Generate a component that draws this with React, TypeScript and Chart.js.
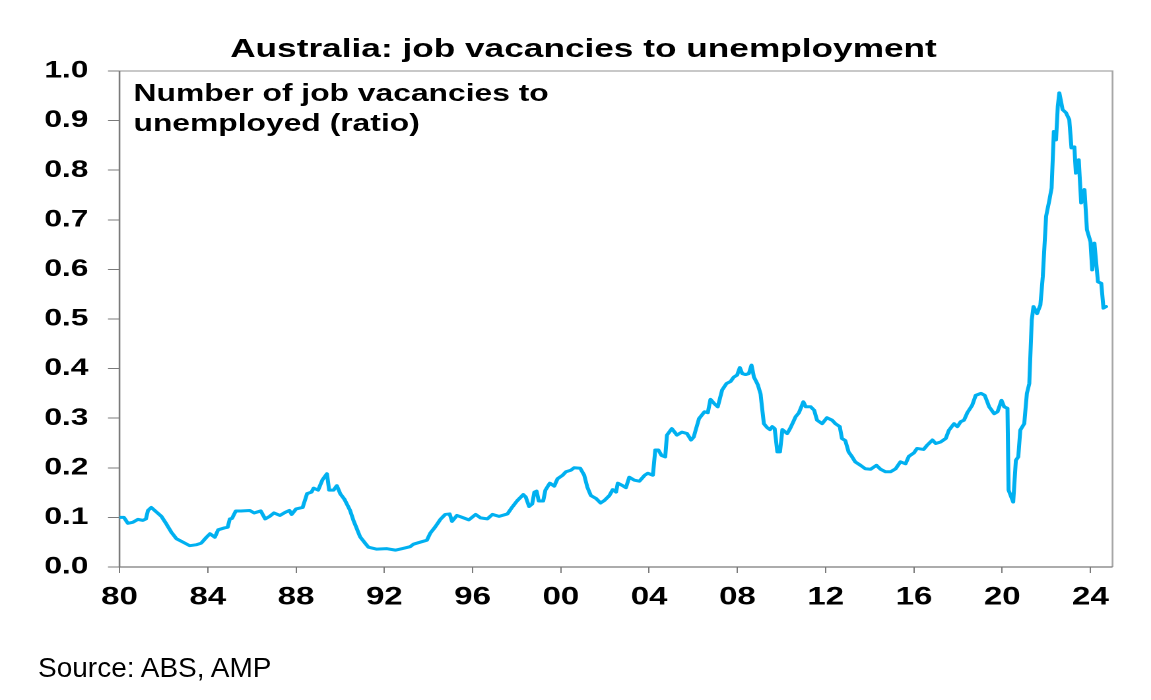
import React, { useEffect, useRef } from "react";
import { Chart, registerables } from "chart.js";

Chart.register(...registerables);

// ---- data ----
const years = [
  1980.0, 1980.2, 1980.38, 1980.6, 1980.83, 1981.06, 1981.2, 1981.29, 1981.44, 1981.67, 1981.9,
  1982.12, 1982.35, 1982.58, 1982.88, 1983.18, 1983.5, 1983.7, 1983.94, 1984.1, 1984.32, 1984.47,
  1984.77, 1984.9, 1985.0, 1985.1, 1985.27, 1985.5, 1985.9, 1986.1, 1986.4, 1986.6, 1986.8, 1987.0,
  1987.27, 1987.5, 1987.7, 1987.8, 1988.0, 1988.3, 1988.4, 1988.5, 1988.7, 1988.8, 1989.0, 1989.2,
  1989.4, 1989.5, 1989.7, 1989.85, 1990.0, 1990.2, 1990.45, 1990.6,
  1990.9, 1991.13, 1991.28, 1991.66, 1992.12, 1992.5, 1992.8, 1993.17, 1993.32, 1993.7, 1993.93,
  1994.08, 1994.31, 1994.54, 1994.76, 1994.96, 1995.07, 1995.29,
  1995.53, 1995.83, 1996.14, 1996.36, 1996.67, 1996.9, 1997.2,
  1997.58, 1997.8, 1998.03, 1998.3, 1998.41, 1998.56, 1998.7, 1998.8, 1998.9, 1999.0, 1999.2,
  1999.3, 1999.5, 1999.7, 1999.85, 2000.08, 2000.23, 2000.45, 2000.6, 2000.88, 2001.06, 2001.2,
  2001.36, 2001.6, 2001.8, 2001.97, 2002.2, 2002.35, 2002.5, 2002.58, 2002.8, 2002.95, 2003.1,
  2003.33, 2003.56, 2003.8, 2003.94, 2004.17, 2004.28, 2004.42, 2004.56, 2004.73, 2004.81, 2005.03,
  2005.26, 2005.49, 2005.72, 2005.9, 2006.02, 2006.26, 2006.51, 2006.66, 2006.78, 2006.96, 2007.11,
  2007.31, 2007.51, 2007.69, 2007.84, 2007.99, 2008.11, 2008.22, 2008.37, 2008.52, 2008.64, 2008.75,
  2008.93, 2009.05, 2009.2, 2009.35, 2009.48, 2009.58, 2009.69, 2009.81, 2009.93, 2010.04, 2010.26,
  2010.41, 2010.64, 2010.79, 2010.99, 2011.1, 2011.32, 2011.48, 2011.61, 2011.84, 2012.06, 2012.29,
  2012.44, 2012.64, 2012.74, 2012.89, 2013.04, 2013.2, 2013.34, 2013.58, 2013.8, 2014.04, 2014.3,
  2014.49, 2014.71, 2014.94, 2015.17, 2015.39, 2015.62, 2015.77, 2016.0, 2016.14, 2016.44, 2016.61,
  2016.84, 2016.99, 2017.21, 2017.44, 2017.59, 2017.82, 2017.97, 2018.12, 2018.27, 2018.42, 2018.64,
  2018.8, 2019.04, 2019.21, 2019.41, 2019.64, 2019.79, 2019.97, 2020.09, 2020.24, 2020.29, 2020.5,
  2020.62, 2020.73, 2020.82, 2021.0, 2021.12, 2021.23, 2021.34, 2021.42, 2021.58, 2021.73, 2021.84,
  2021.99, 2022.14, 2022.24, 2022.34, 2022.44, 2022.52, 2022.59, 2022.74, 2022.89, 2023.04, 2023.14,
  2023.27, 2023.34, 2023.47, 2023.58, 2023.73, 2023.84, 2024.0, 2024.08, 2024.18, 2024.34, 2024.49,
  2024.59, 2024.71,
];

const ratio = [
  0.1, 0.1, 0.088, 0.09, 0.096, 0.094, 0.097, 0.114, 0.12, 0.111, 0.102,
  0.087, 0.07, 0.057, 0.05, 0.043, 0.045, 0.048, 0.06, 0.067, 0.06, 0.075,
  0.079, 0.08, 0.097, 0.098, 0.113, 0.113, 0.114, 0.109, 0.113, 0.097, 0.102, 0.109,
  0.104, 0.11, 0.114, 0.106, 0.117, 0.12, 0.134, 0.148, 0.151, 0.159, 0.155, 0.176,
  0.188, 0.155, 0.155, 0.164, 0.148, 0.136, 0.114, 0.094,
  0.061, 0.048, 0.04, 0.036, 0.037, 0.034, 0.037, 0.041, 0.046, 0.051, 0.054,
  0.068, 0.081, 0.096, 0.106, 0.107, 0.092, 0.104,
  0.1, 0.095, 0.106, 0.099, 0.097, 0.106, 0.102,
  0.107, 0.121, 0.134, 0.146, 0.141, 0.122, 0.127, 0.151, 0.153, 0.133, 0.133,
  0.155, 0.169, 0.163, 0.178, 0.185, 0.192, 0.195, 0.2, 0.199, 0.185, 0.161,
  0.144, 0.138, 0.129, 0.134, 0.144, 0.156, 0.151, 0.169, 0.164, 0.16, 0.181,
  0.175, 0.173, 0.185, 0.189, 0.185, 0.236, 0.236, 0.225, 0.222, 0.266, 0.279,
  0.266, 0.272, 0.269, 0.256, 0.262, 0.299, 0.313, 0.311, 0.338, 0.329, 0.323,
  0.357, 0.37, 0.374, 0.383, 0.387, 0.402, 0.39, 0.388, 0.39, 0.407, 0.383,
  0.367, 0.349, 0.289, 0.281, 0.277, 0.283, 0.279, 0.232, 0.232, 0.277, 0.269,
  0.281, 0.303, 0.311, 0.333, 0.323, 0.323, 0.316, 0.296, 0.289, 0.301, 0.296,
  0.289, 0.283, 0.259, 0.255, 0.232, 0.222, 0.212, 0.205, 0.198, 0.197, 0.205,
  0.197, 0.192, 0.192, 0.198, 0.212, 0.208, 0.223, 0.23, 0.239, 0.237, 0.246,
  0.256, 0.249, 0.252, 0.259, 0.276, 0.289, 0.283, 0.293, 0.296, 0.311, 0.326,
  0.346, 0.35, 0.346, 0.323, 0.309, 0.313, 0.336, 0.323, 0.32, 0.155, 0.131,
  0.215, 0.222, 0.276, 0.289, 0.35, 0.37, 0.498, 0.525, 0.511, 0.528, 0.585,
  0.707, 0.74, 0.764, 0.878, 0.861, 0.929, 0.956, 0.922, 0.916, 0.902, 0.845,
  0.847, 0.794, 0.821, 0.734, 0.761, 0.68, 0.656, 0.599, 0.653, 0.575, 0.572,
  0.522, 0.525,
];

const xTickYears = [1980, 1984, 1988, 1992, 1996, 2000, 2004, 2008, 2012, 2016, 2020, 2024];
const xTickLabels = ["80", "84", "88", "92", "96", "00", "04", "08", "12", "16", "20", "24"];
const yTickValues = [0, 0.1, 0.2, 0.3, 0.4, 0.5, 0.6, 0.7, 0.8, 0.9, 1.0];
const yTickLabels = ["0.0", "0.1", "0.2", "0.3", "0.4", "0.5", "0.6", "0.7", "0.8", "0.9", "1.0"];

const titleText = "Australia: job vacancies to unemployment";
const noteLines = ["Number of job vacancies to", "unemployed (ratio)"];
const sourceText = "Source: ABS, AMP";

// ---- layout ----
const S = 1.32; // horizontal stretch of the original picture
const PAGE_W = 1151;
const PAGE_H = 700;
const LW = Math.round(PAGE_W / S);
const PLOT_LEFT = 119.5 / S;
const PLOT_RIGHT = 1112.5 / S;
const PLOT_TOP = 71;
const PLOT_BOTTOM = 567;
const FONT = '"Liberation Sans", Arial, Helvetica, sans-serif';
const LINE_COLOR = "#00B0F0";

const boxPlugin = {
  id: "plotBox",
  beforeDatasetsDraw(chart: any) {
    const { ctx, chartArea } = chart;
    const { left, right, top, bottom } = chartArea;
    ctx.save();
    ctx.lineWidth = 1.3;
    ctx.strokeStyle = "#a6a6a6";
    ctx.beginPath();
    ctx.moveTo(left, top);
    ctx.lineTo(right, top);
    ctx.lineTo(right, bottom);
    ctx.stroke();
    ctx.strokeStyle = "#7a7a7a";
    ctx.beginPath();
    ctx.moveTo(left, top);
    ctx.lineTo(left, bottom);
    ctx.lineTo(right, bottom);
    ctx.stroke();
    ctx.restore();
  },
};

function LineChart() {
  const ref = useRef<HTMLCanvasElement | null>(null);
  useEffect(() => {
    if (!ref.current) return;
    const points = years.map((x, i) => ({ x, y: ratio[i] }));
    const chart = new Chart(ref.current, {
      type: "line",
      data: {
        datasets: [
          {
            data: points,
            borderColor: LINE_COLOR,
            borderWidth: 3,
            pointRadius: 0,
            tension: 0,
            fill: false,
            borderJoinStyle: "round",
            borderCapStyle: "round",
          } as any,
        ],
      },
      options: {
        animation: false,
        responsive: false,
        maintainAspectRatio: false,
        devicePixelRatio: 2,
        layout: {
          padding: { left: 0, top: PLOT_TOP, right: LW - PLOT_RIGHT, bottom: 0 },
        },
        plugins: {
          legend: { display: false },
          title: { display: false },
          tooltip: { enabled: false },
        },
        scales: {
          x: {
            type: "linear",
            min: 1980,
            max: 2025,
            afterBuildTicks: (scale: any) => {
              scale.ticks = xTickYears.map((v) => ({ value: v }));
            },
            afterFit: (scale: any) => {
              scale.height = PAGE_H - PLOT_BOTTOM;
            },
            grid: {
              drawOnChartArea: false,
              drawTicks: true,
              tickLength: 6,
              color: "#7a7a7a",
              lineWidth: 1,
            },
            border: { display: false },
            ticks: {
              autoSkip: false,
              maxRotation: 0,
              includeBounds: false,
              padding: 9.5,
              color: "#000",
              font: { family: FONT, size: 25, weight: "bold" },
              callback: (v: any) => {
                const i = xTickYears.indexOf(Number(v));
                return i >= 0 ? xTickLabels[i] : "";
              },
            },
          },
          y: {
            min: 0,
            max: 1,
            afterBuildTicks: (scale: any) => {
              scale.ticks = yTickValues.map((v) => ({ value: v }));
            },
            afterFit: (scale: any) => {
              scale.width = PLOT_LEFT;
            },
            grid: {
              drawOnChartArea: false,
              drawTicks: true,
              tickLength: 8.7,
              color: "#7a7a7a",
              lineWidth: 1,
            },
            border: { display: false },
            ticks: {
              padding: 14.9,
              color: "#000",
              font: { family: FONT, size: 24, weight: "bold" },
              callback: (v: any) => {
                const i = yTickValues.findIndex((t) => Math.abs(t - Number(v)) < 1e-6);
                return i >= 0 ? yTickLabels[i] : "";
              },
            },
          },
        },
      } as any,
      plugins: [boxPlugin],
    });
    return () => chart.destroy();
  }, []);
  return <canvas ref={ref} width={LW} height={PAGE_H} style={{ width: LW, height: PAGE_H, display: "block" }} />;
}

export default function App() {
  return (
    <div
      style={{
        position: "absolute",
        left: 0,
        top: 0,
        width: PAGE_W,
        height: PAGE_H,
        overflow: "hidden",
        background: "#fff",
        fontFamily: FONT,
        color: "#000",
      }}
    >
      <div
        style={{
          position: "absolute",
          left: 0,
          top: 0,
          width: LW,
          height: PAGE_H,
          transform: `scaleX(${S})`,
          transformOrigin: "0 0",
        }}
      >
        <LineChart />
        <div
          style={{
            position: "absolute",
            left: 583.5 / S,
            top: 35.4,
            transform: "translateX(-50%)",
            whiteSpace: "nowrap",
            fontSize: 26.7,
            fontWeight: "bold",
            lineHeight: 1,
          }}
        >
          {titleText}
        </div>
        <div
          style={{
            position: "absolute",
            left: 133.5 / S,
            top: 78.4,
            whiteSpace: "nowrap",
            fontSize: 24.1,
            fontWeight: "bold",
            lineHeight: "30px",
          }}
        >
          {noteLines[0]}
          <br />
          {noteLines[1]}
        </div>
      </div>
      <div
        style={{
          position: "absolute",
          left: 38,
          top: 653.6,
          whiteSpace: "nowrap",
          fontSize: 28,
          lineHeight: 1,
        }}
      >
        {sourceText}
      </div>
    </div>
  );
}
